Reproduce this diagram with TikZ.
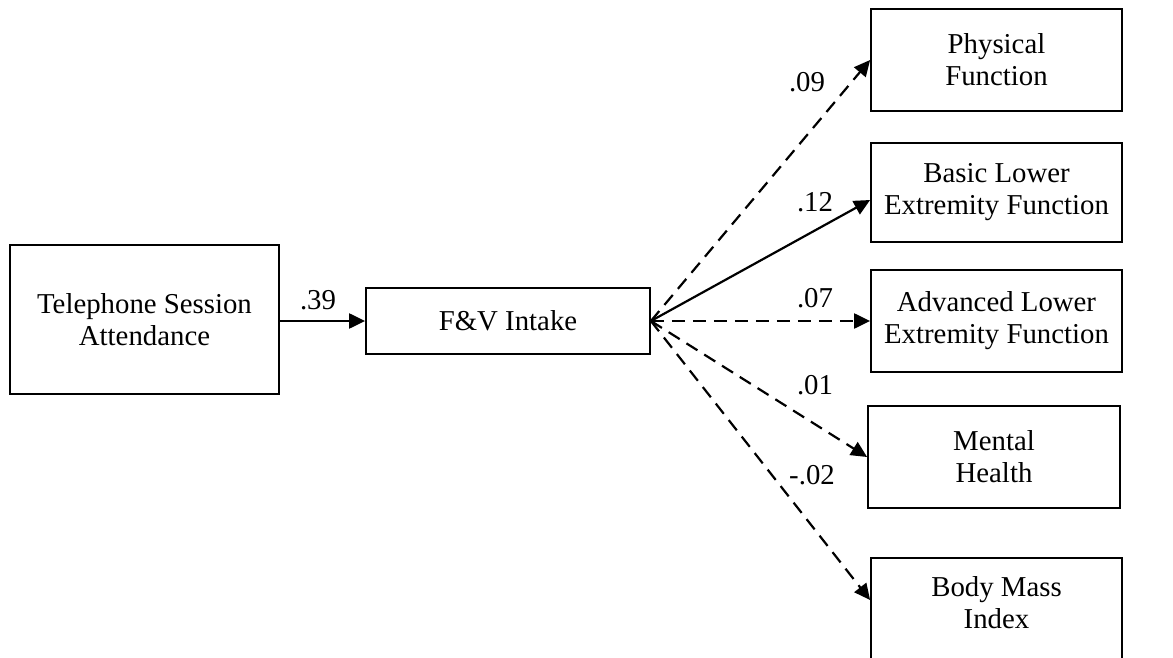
\documentclass[tikz,border=0pt]{standalone}
\usepackage{fontspec}
\setmainfont{Liberation Serif}
\usetikzlibrary{arrows.meta}
\tikzset{
  pathfig/.style={
    x=0.5pt, y=-0.5pt,
    every node/.append style={font=\fontsize{14.4}{16}\selectfont},
    >={Triangle[length=8pt,width=7.5pt]},
  },
  varnode/.style={draw, line width=0.9pt, align=center, inner sep=2pt},
  outnode/.style={varnode, minimum width=125.5pt, minimum height=51pt},
  sig/.style={line width=1.1pt, ->},
  % nicht signifikante Pfade gestrichelt
  nonsig/.style={sig, dash pattern=on 6.5pt off 4pt},
  coef/.style={inner sep=1pt},
}
\begin{document}
\begin{tikzpicture}[pathfig]
  \useasboundingbox (0,0) rectangle (1173,658);
  \node[varnode, minimum width=134.5pt, minimum height=74.5pt] (TeleAttend) at (144.5,319.5) {Telephone Session\\Attendance};
  \node[varnode, minimum width=142pt, minimum height=33pt] (FVIntake) at (508,321) {F\&V Intake};
  \node[outnode] (PhysFunc) at (996.5,60) {Physical\\Function};
  \node[outnode, minimum height=49.5pt] (BasicLEF) at (996.5,192.5) {Basic Lower\\Extremity Function};
  \node[outnode] (AdvLEF) at (996.5,321) {Advanced Lower\\Extremity Function};
  \node[outnode, minimum width=126pt] (MentHealth) at (994,457) {Mental\\Health};
  \node[outnode, anchor=north, minimum height=0pt, inner ysep=9.5pt, text depth=45pt] (BMI) at (996.5,557) {Body Mass\\Index};
  \draw[sig] (TeleAttend.east |- FVIntake.west) -- (FVIntake.west);
  \draw[nonsig] (FVIntake.east) -- (PhysFunc.west);
  \draw[sig] (FVIntake.east) -- ([yshift=-3.75pt]BasicLEF.west);
  \draw[nonsig] (FVIntake.east) -- (AdvLEF.west);
  \draw[nonsig] (FVIntake.east) -- (MentHealth.west);
  \draw[nonsig] (FVIntake.east) -- ([yshift=-21.5pt]BMI.north west);
  \node[coef] (CoefTele) at (318,300) {.39};
  \node[coef] (CoefPhys) at (807,82) {.09};
  \node[coef] (CoefBasic) at (815,202) {.12};
  \node[coef] (CoefAdv) at (815,298) {.07};
  \node[coef] (CoefMent) at (815,385) {.01};
  \node[coef] (CoefBMI) at (812,475) {-.02};
\end{tikzpicture}
\end{document}
